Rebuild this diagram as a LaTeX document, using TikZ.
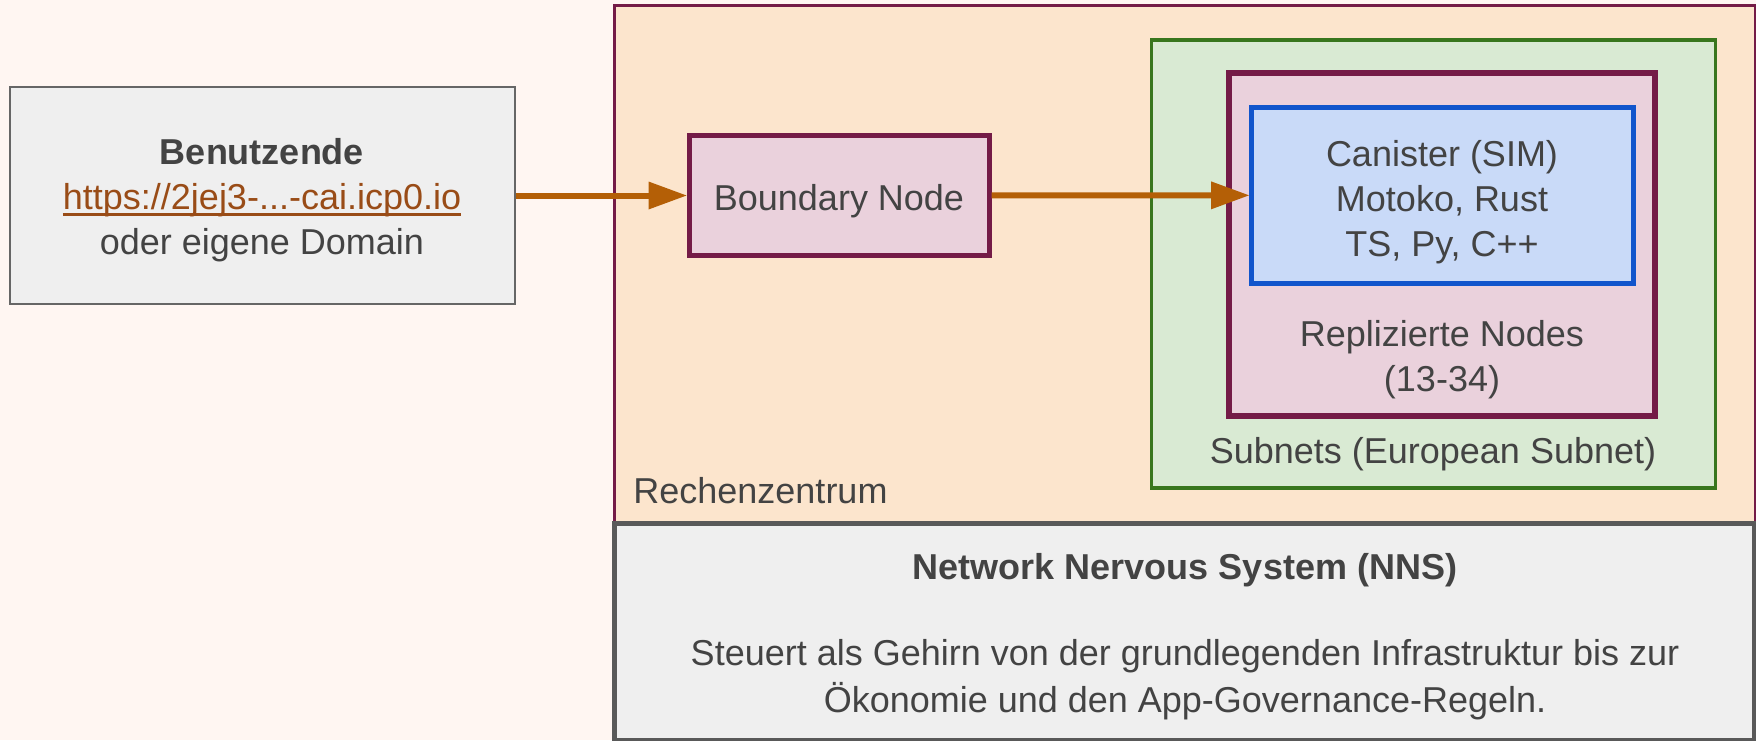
\documentclass[tikz,border=0pt]{standalone}
\usepackage{fontspec}
\setmainfont{Liberation Sans}
\usetikzlibrary{arrows.meta}

\definecolor{bgpink}{HTML}{FFF6F2}
\definecolor{txtgray}{HTML}{434343}
\definecolor{peach}{HTML}{FCE5CD}
\definecolor{plum}{HTML}{741B47}
\definecolor{rose}{HTML}{EAD1DC}
\definecolor{mint}{HTML}{D9EAD3}
\definecolor{leaf}{HTML}{38761D}
\definecolor{sky}{HTML}{C9DAF8}
\definecolor{royal}{HTML}{1155CC}
\definecolor{paper}{HTML}{EFEFEF}
\definecolor{frameA}{HTML}{666666}
\definecolor{frameB}{HTML}{595959}
\definecolor{linkbrown}{HTML}{994C17}
\definecolor{flowor}{HTML}{B45F06}

\newcommand\linkul[1]{\setbox0\hbox{#1}\rlap{\rule[-3.3pt]{\wd0}{1.5pt}}\box0}

\begin{document}
\begin{tikzpicture}[x=0.5pt,y=-0.5pt,
  every node/.style={font=\fontsize{18}{22.5}\selectfont, text=txtgray, align=center},
  frame/.style={draw, rectangle, inner sep=0pt},
  flow/.style={color=flowor, line width=3pt, -{Triangle[length=19pt,width=14pt,line width=0pt]}}]

\fill[bgpink] (0,0) rectangle (1756,740);
\useasboundingbox (0,0) rectangle (1756,740);

% Rechenzentrum with subnet and replicas
\node[frame, fill=peach, draw=plum, line width=1.5pt, minimum width=570.5pt, minimum height=259pt] (rz) at (1184.5,264) {};
\node[anchor=base west, inner sep=0pt] (rzlab) at (633,503) {Rechenzentrum};
\node[frame, fill=mint, draw=leaf, line width=1.75pt, minimum width=282pt, minimum height=224pt] (subnet) at (1433.5,264) {};
\node (subnetlab) at (1433,454) {Subnets (European Subnet)};
\node[frame, fill=rose, draw=plum, line width=3pt, minimum width=213pt, minimum height=171.75pt] (replica) at (1442,244.25) {};
\node (replicalab) at (1442,360) {Replizierte Nodes\\(13-34)};
\node[frame, fill=sky, draw=royal, line width=2.5pt, minimum width=190.75pt, minimum height=87.75pt] (canister) at (1442.25,195.25) {};
\node (canistertxt) at (1442,202) {Canister (SIM)\\Motoko, Rust\\TS, Py, C++};

% NNS
\node[frame, fill=paper, draw=frameB, line width=2.5pt, minimum width=570.25pt, minimum height=108.25pt] (nns) at (1184.25,631.75) {};
\node (nnstitle) at (1185,570) {\bfseries Network Nervous System (NNS)};
\node[font=\fontsize{18}{23.5}\selectfont] (nnstext) at (1185,680) {Steuert als Gehirn von der grundlegenden Infrastruktur bis zur\\Ökonomie und den App-Governance-Regeln.};

\node[frame, fill=paper, draw=frameA, line width=1pt, minimum width=252.5pt, minimum height=108.5pt] (user) at (262,195.5) {};
\node (usertxt) at (262,200)
  {\textbf{Benutzende}\\\textcolor{linkbrown}{\linkul{https://2jej3-...-cai.icp0.io}}\\oder eigene Domain};
\node[frame, fill=rose, draw=plum, line width=2.5pt, minimum width=150pt, minimum height=60pt] (boundary) at (839,195.5) {};
\node (boundarytxt) at (839,201) {Boundary Node};

\path[flow] (user) edge (boundary) (boundary) edge (canister);

\end{tikzpicture}
\end{document}
